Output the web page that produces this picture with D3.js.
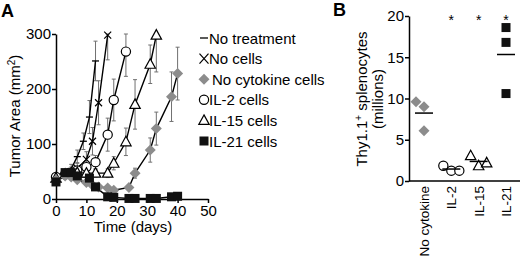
<!DOCTYPE html>
<html>
<head>
<meta charset="utf-8">
<script src="https://cdn.jsdelivr.net/npm/d3@7/dist/d3.min.js"></script>
<style>
body { margin: 0; background: #fff; }
svg { font-family: "Liberation Sans", Arial, sans-serif; }
.axis path, .axis line { stroke: #000; stroke-width: 1.5px; }
.axis text { font-size: 15px; fill: #000; }
</style>
</head>
<body>
<div id="chart"></div>
<script>
// ---- panel A data: tumor area (mm2) by day ----
var noTreatDays  = [0, 3, 5, 7, 9, 11, 13];
var noTreatArea  = [35, 45, 55, 77, 105, 149, 251];
var noTreatErr   = [5, 6, 8, 12, 15, 30, 36];

var noCellsDays  = [0, 3, 5, 7, 10, 12, 14, 17];
var noCellsArea  = [35, 44, 50, 56, 72, 105, 175, 298];
var noCellsErr   = [5, 6, 8, 10, 14, 25, 40, 45];

var noCytoDays   = [0, 3, 5, 7, 10, 12, 14, 17, 19, 24, 26, 31, 33, 38, 40];
var noCytoArea   = [35, 42, 40, 35, 30, 25, 22, 20, 16, 21, 47, 89, 128, 186, 228];
var noCytoErr    = [4, 5, 5, 5, 5, 4, 4, 4, 4, 5, 9, 22, 30, 45, 48];

var il2Days      = [0, 3, 5, 7, 10, 13, 17, 19, 23];
var il2Area      = [40, 45, 48, 52, 58, 67, 117, 180, 268];
var il2Err       = [4, 5, 6, 7, 9, 12, 30, 38, 45];

var il15Days     = [0, 3, 5, 7, 10, 13, 17, 19, 23, 26, 31, 33];
var il15Area     = [38, 45, 47, 48, 47, 47, 47, 65, 104, 172, 245, 298];
var il15Err      = [4, 5, 5, 5, 6, 7, 8, 12, 25, 45, 35, 67];

var il21Days     = [0, 3, 5, 7, 11, 13, 17, 19, 24, 26, 31, 33, 38, 40];
var il21Area     = [31, 48, 48, 42, 38, 22, 4, 3, 1, 1, 1, 1, 4, 5];
var il21Err      = [3, 4, 4, 4, 4, 4, 2, 2, 1, 1, 1, 1, 2, 2];

var xTicksA = [0, 10, 20, 30, 40, 50];
var yTicksA = [0, 100, 200, 300];

// ---- panel B data: Thy1.1+ splenocytes (millions) ----
var groupsB = ["No cytokine", "IL-2", "IL-15", "IL-21"];
var noCytoCells = [9.0, 9.6, 6.1];
var il2Cells    = [1.25, 1.85, 1.25];
var il15Cells   = [1.85, 3.07, 2.2];
var il21Cells   = [18.6, 16.8, 10.6];
var starGroups  = ["IL-2", "IL-15", "IL-21"];
var yTicksB = [0, 5, 10, 15, 20];

function zip(days, area, err) {
  return days.map(function (d, i) { return { day: d, area: area[i], err: err[i] }; });
}

var seriesA = [
  { name: "No treatment",      shape: "dash",     data: zip(noTreatDays, noTreatArea, noTreatErr) },
  { name: "No cells",          shape: "cross",    data: zip(noCellsDays, noCellsArea, noCellsErr) },
  { name: "No cytokine cells", shape: "diamond",  data: zip(noCytoDays, noCytoArea, noCytoErr) },
  { name: "IL-2 cells",        shape: "circle",   data: zip(il2Days, il2Area, il2Err) },
  { name: "IL-15 cells",       shape: "triangle", data: zip(il15Days, il15Area, il15Err) },
  { name: "IL-21 cells",       shape: "square",   data: zip(il21Days, il21Area, il21Err) }
];

var width = 520, height = 256;
var svg = d3.select("#chart").append("svg")
  .attr("width", width).attr("height", height);

// marker drawing
function marker(g, shape) {
  if (shape === "dash") {
    g.append("line").attr("x1", -3.5).attr("x2", 3.5).attr("y1", 0).attr("y2", 0)
      .attr("stroke", "#000").attr("stroke-width", 1.3);
  } else if (shape === "cross") {
    g.append("path").attr("d", "M-3.5,-3.5L3.5,3.5M-3.5,3.5L3.5,-3.5")
      .attr("stroke", "#000").attr("stroke-width", 1.2);
  } else if (shape === "diamond") {
    g.append("path").attr("d", "M0,-5.5L5.5,0L0,5.5L-5.5,0Z").attr("fill", "#8c8c8c");
  } else if (shape === "circle") {
    g.append("circle").attr("r", 4.6).attr("fill", "#fff").attr("stroke", "#000").attr("stroke-width", 1.2);
  } else if (shape === "triangle") {
    g.append("path").attr("d", "M0,-5.5L5.2,4L-5.2,4Z").attr("fill", "#fff")
      .attr("stroke", "#000").attr("stroke-width", 1.2);
  } else if (shape === "square") {
    g.append("rect").attr("x", -4.5).attr("y", -4.5).attr("width", 9).attr("height", 9).attr("fill", "#111");
  }
}

// ================= Panel A =================
var xA = d3.scaleLinear().domain([0, 50]).range([56, 208]);
var yA = d3.scaleLinear().domain([0, 300]).range([199, 34]);

svg.append("g").attr("class", "axis")
  .attr("transform", "translate(0," + yA(0) + ")")
  .call(d3.axisBottom(xA).tickValues(xTicksA).tickSize(4).tickSizeOuter(0).tickPadding(2));

svg.append("g").attr("class", "axis")
  .attr("transform", "translate(" + xA(0) + ",0)")
  .call(d3.axisLeft(yA).tickValues(yTicksA).tickSize(4).tickSizeOuter(0).tickPadding(1));

svg.append("text").attr("x", 1).attr("y", 17)
  .attr("font-size", 18).attr("font-weight", "bold").text("A");

svg.append("text").attr("transform", "translate(20,116) rotate(-90)")
  .attr("text-anchor", "middle").attr("font-size", 15)
  .html("Tumor Area (mm<tspan baseline-shift='super' font-size='10'>2</tspan>)");

svg.append("text").attr("x", 133).attr("y", 232)
  .attr("text-anchor", "middle").attr("font-size", 15).text("Time (days)");

var line = d3.line().x(function (d) { return xA(d.day); }).y(function (d) { return yA(d.area); });

// error bars
seriesA.forEach(function (s) {
  var eb = svg.append("g").attr("stroke", "#707070").attr("stroke-width", 1);
  s.data.forEach(function (d) {
    var x = xA(d.day), top = yA(Math.min(d.area + d.err, 300)), bot = yA(Math.max(d.area - d.err, 0));
    eb.append("line").attr("x1", x).attr("x2", x).attr("y1", top).attr("y2", bot);
    eb.append("line").attr("x1", x - 2).attr("x2", x + 2).attr("y1", top).attr("y2", top);
    eb.append("line").attr("x1", x - 2).attr("x2", x + 2).attr("y1", bot).attr("y2", bot);
  });
});

// lines
seriesA.forEach(function (s) {
  svg.append("path").datum(s.data).attr("d", line)
    .attr("fill", "none").attr("stroke", "#000").attr("stroke-width", 1.4);
});

// markers
var drawOrder = [0, 1, 3, 4, 2, 5];
drawOrder.forEach(function (k) {
  var s = seriesA[k];
  s.data.forEach(function (d) {
    var g = svg.append("g").attr("transform", "translate(" + xA(d.day) + "," + yA(d.area) + ")");
    marker(g, s.shape);
  });
});

// legend
seriesA.forEach(function (s, i) {
  var y = 38 + i * 20.6;
  var g = svg.append("g").attr("transform", "translate(204," + y + ")");
  if (s.shape === "dash") {
    g.append("line").attr("x1", -4).attr("x2", 4).attr("stroke", "#000").attr("stroke-width", 1.3);
  } else if (s.shape === "cross") {
    g.append("path").attr("d", "M-4.5,-5L4.5,5M-4.5,5L4.5,-5").attr("stroke", "#000").attr("stroke-width", 1.2);
  } else {
    marker(g, s.shape);
  }
  svg.append("text").attr("x", s.shape === "diamond" ? 212 : 209).attr("y", y + 5.5)
    .attr("font-size", 15).text(s.name);
});

// ================= Panel B =================
var xB = d3.scalePoint().domain(groupsB).range([424, 506]);
var yB = d3.scaleLinear().domain([0, 20]).range([181, 16]);

svg.append("g").attr("class", "axis")
  .attr("transform", "translate(409,0)")
  .call(d3.axisLeft(yB).tickValues(yTicksB).tickSize(4).tickSizeOuter(0).tickPadding(1));

svg.append("line").attr("x1", 409).attr("x2", 520).attr("y1", yB(0)).attr("y2", yB(0))
  .attr("stroke", "#000").attr("stroke-width", 1.5);

groupsB.forEach(function (g) {
  svg.append("text").attr("transform", "translate(" + (xB(g) + 5) + ",186) rotate(-90)")
    .attr("text-anchor", "end").attr("font-size", 13.5).text(g);
});

svg.append("text").attr("x", 333).attr("y", 16)
  .attr("font-size", 18).attr("font-weight", "bold").text("B");

svg.append("text").attr("transform", "translate(367,99) rotate(-90)")
  .attr("text-anchor", "middle").attr("font-size", 15)
  .html("Thy1.1<tspan baseline-shift='super' font-size='10'>+</tspan> splenocytes");
svg.append("text").attr("transform", "translate(383,99) rotate(-90)")
  .attr("text-anchor", "middle").attr("font-size", 15).text("(millions)");

var groupData = [
  { group: "No cytokine", shape: "diamond",  values: noCytoCells },
  { group: "IL-2",        shape: "circle",   values: il2Cells },
  { group: "IL-15",       shape: "triangle", values: il15Cells },
  { group: "IL-21",       shape: "square",   values: il21Cells }
];

// simple dodge so overlapping points sit side by side
var step = 8, near = 11;
groupData.forEach(function (gd) {
  var placed = [];
  gd.values.forEach(function (v) {
    var py = yB(v), offs = [0, -step, step, -2 * step, 2 * step], off = 0;
    for (var j = 0; j < offs.length; j++) {
      var hit = placed.some(function (p) { return Math.abs(p.y - py) < near && Math.abs(p.o - offs[j]) < step; });
      if (!hit) { off = offs[j]; break; }
    }
    placed.push({ y: py, o: off });
    var g = svg.append("g").attr("transform", "translate(" + (xB(gd.group) + off) + "," + py + ")");
    marker(g, gd.shape);
  });
  var m = d3.mean(gd.values);
  svg.append("line").attr("x1", xB(gd.group) - 9).attr("x2", xB(gd.group) + 9)
    .attr("y1", yB(m)).attr("y2", yB(m)).attr("stroke", "#000").attr("stroke-width", 1.5);
});

starGroups.forEach(function (g) {
  svg.append("text").attr("x", xB(g)).attr("y", 25).attr("fill", "#000")
    .attr("text-anchor", "middle").attr("font-size", 14).text("*");
});
</script>
</body>
</html>
